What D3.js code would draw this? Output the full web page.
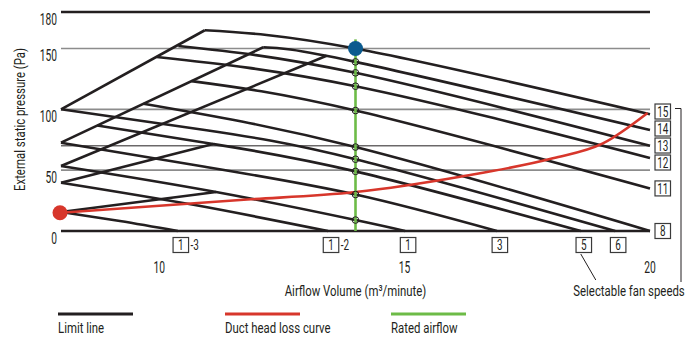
<!DOCTYPE html>
<html><head><meta charset="utf-8">
<script src="https://cdn.jsdelivr.net/npm/d3@7"></script>
<style>
body{margin:0;background:#fff;}
text{font-family:Roboto,"DejaVu Sans",sans-serif;fill:#231f20;}
</style></head>
<body><svg id="c" width="698" height="338"></svg>
<script>
// ---- data ----
const xTicks = [10, 15, 20];
const yTicks = [0, 50, 100, 150, 180];
const refLines = [180, 150, 100, 70, 50, 0];
const refStyle = ["dark", "gray", "gray", "thin", "gray", "dark"];
const fanLabels = ["15", "14", "13", "12", "11", "8", "6", "5", "3", "1", "1", "1"];
const fanSuffix = ["", "", "", "", "", "", "", "", "", "", "-2", "-3"];
const fanCurves = [
  [[10.93,165],[14,150],[20,96]],
  [[12.12,151],[14,139],[20,83]],
  [[10.39,152],[14,130],[20,70]],
  [[9.95,143],[14,119],[20,60]],
  [[10.66,123.2],[14,99],[20,35]],
  [[9.68,104.6],[14,69],[20,0]],
  [[8,100],[10.93,83],[14,59],[19.29,0]],
  [[8.74,86.7],[11.1,71.5],[14,49],[18.59,0]],
  [[8,72.6],[10.93,52.8],[14,30],[16.88,0]],
  [[8,53.4],[11.16,32],[14,9],[15.01,0]],
  [[8,39.7],[10.7,21.5],[13.44,0]],
  [[8,15.6],[9.2,8.2],[10.38,0]]
];
const limitLines = [
  [[8,100],[10.93,165]],
  [[8,72.6],[12.12,151]],
  [[8,53.4],[13.41,144]],
  [[8,39.7],[11.1,71.5]],
  [[8,15.6],[11.16,32]]
];
const ductX = [8, 11.65, 14, 16.13, 18.02, 19.04, 19.95];
const ductP = [15, 25.5, 32, 44.6, 59.7, 72, 97];
const ratedX = 14, ratedP = 150, ratedTop = 157.5;
const legendItems = ["Limit line", "Duct head loss curve", "Rated airflow"];
const legendColors = ["#231f20", "#d7362b", "#6dbb47"];

// ---- chart ----
const svg = d3.select("#c");
const x = d3.scaleLinear().domain([8, 20]).range([61, 650]);
const y = d3.scaleLinear().domain([0, 180]).range([231, 12]);
const ink = "#231f20";

function label(parent, px, py, str, size, anchor, k, rot) {
  const g = parent.append("g").attr("transform", `translate(${px},${py})${rot ? ` rotate(${rot})` : ""} scale(${k},1)`);
  g.append("text").attr("text-anchor", anchor).attr("font-size", size).text(str);
  return g;
}

refLines.forEach((v, i) => {
  const s = refStyle[i];
  svg.append("line").attr("x1", x(8)).attr("x2", x(20)).attr("y1", y(v)).attr("y2", y(v))
    .attr("stroke", s === "gray" ? "#8c8c8c" : ink)
    .attr("stroke-width", s === "dark" ? 2.5 : (s === "gray" ? 1.6 : 1));
});

yTicks.forEach(d => label(svg, 57, y(d) + 12.5, d, 16.5, "end", 0.62));
label(svg, 25, 119.5, "External static pressure (Pa)", 15, "middle", 0.76, -90);
xTicks.forEach(d => label(svg, x(d), 273, d, 16, "middle", 0.64));
label(svg, x(14), 296, "Airflow Volume (m³/minute)", 15, "middle", 0.76);

const line = d3.line().x(d => x(d[0])).y(d => y(d[1])).curve(d3.curveNatural);

svg.selectAll(".fan").data(fanCurves).join("path").attr("d", line)
  .attr("fill", "none").attr("stroke", ink).attr("stroke-width", 2.6);
svg.selectAll(".lim").data(limitLines).join("path").attr("d", line)
  .attr("fill", "none").attr("stroke", ink).attr("stroke-width", 2.6).attr("stroke-linejoin", "round");

const duct = ductX.map((d, i) => [d, ductP[i]]);
svg.append("path").attr("d", d3.line().x(d => x(d[0])).y(d => y(d[1])).curve(d3.curveMonotoneX)(duct))
  .attr("fill", "none").attr("stroke", legendColors[1]).attr("stroke-width", 2.6);

svg.append("line").attr("x1", x(ratedX)).attr("x2", x(ratedX)).attr("y1", y(ratedTop)).attr("y2", y(0))
  .attr("stroke", legendColors[2]).attr("stroke-width", 2.6);
fanCurves.forEach(c => {
  const p = c.find(d => d[0] === ratedX);
  if (p && p[1] !== ratedP) {
    svg.append("circle").attr("cx", x(ratedX)).attr("cy", y(p[1])).attr("r", 3.3)
      .attr("fill", "none").attr("stroke", ink).attr("stroke-width", 1);
  }
});
svg.append("circle").attr("cx", x(ratedX)).attr("cy", y(ratedP)).attr("r", 7.5).attr("fill", "#0b5a8e");
svg.append("circle").attr("cx", x(ductX[0]) - 1).attr("cy", y(ductP[0])).attr("r", 7.5).attr("fill", "#d7362b");

const right = [], bottom = [];
fanCurves.forEach((c, i) => {
  const e = c[c.length - 1];
  if (e[1] > 0.5 || e[0] >= 20) right.push({t: fanLabels[i], s: fanSuffix[i], y0: y(e[1])});
  else bottom.push({t: fanLabels[i], s: fanSuffix[i], x0: x(e[0])});
});
right.sort((a, b) => a.y0 - b.y0);
right.forEach(d => d.y = d.y0);
for (let k = 0; k < 100; k++) {
  for (let i = 0; i < right.length - 1; i++) {
    const gap = right[i+1].y - right[i].y;
    if (gap < 17) { const m = (17 - gap) / 2; right[i].y -= m; right[i+1].y += m; }
  }
}
const bw = 15.5, bh = 15;
function box(gx, gy, d) {
  const g = svg.append("g").attr("transform", `translate(${gx},${gy})`);
  g.append("rect").attr("width", bw).attr("height", bh).attr("fill", "#fff").attr("stroke", "#3a3a3a").attr("stroke-width", 1.2);
  label(g, bw/2, 12.6, d.t, 15.5, "middle", 0.64);
  if (d.s) label(g, bw + 2, 12.6, d.s, 15.5, "start", 0.64);
}
right.forEach(d => box(x(20) + 5, d.y - bh/2, d));
bottom.forEach(d => box(d.x0 + 3 - bw/2, 237.5, d));

const topY = right[0].y;
svg.append("path").attr("d", `M${x(20)+25},${topY - 3}H${x(20)+31}V282`).attr("fill", "none").attr("stroke", ink).attr("stroke-width", 1);
const b5 = bottom.find(d => d.t === "5");
svg.append("line").attr("x1", b5.x0).attr("y1", 254).attr("x2", b5.x0 + 15).attr("y2", 280).attr("stroke", ink).attr("stroke-width", 1);
label(svg, 629, 296, "Selectable fan speeds", 15, "middle", 0.76);

const lx = [58, 225, 391];
legendItems.forEach((t, i) => {
  svg.append("line").attr("x1", lx[i]).attr("x2", lx[i] + 75).attr("y1", 314).attr("y2", 314)
    .attr("stroke", legendColors[i]).attr("stroke-width", 3);
  label(svg, lx[i], 333, t, 15, "start", 0.76);
});
</script></body></html>
